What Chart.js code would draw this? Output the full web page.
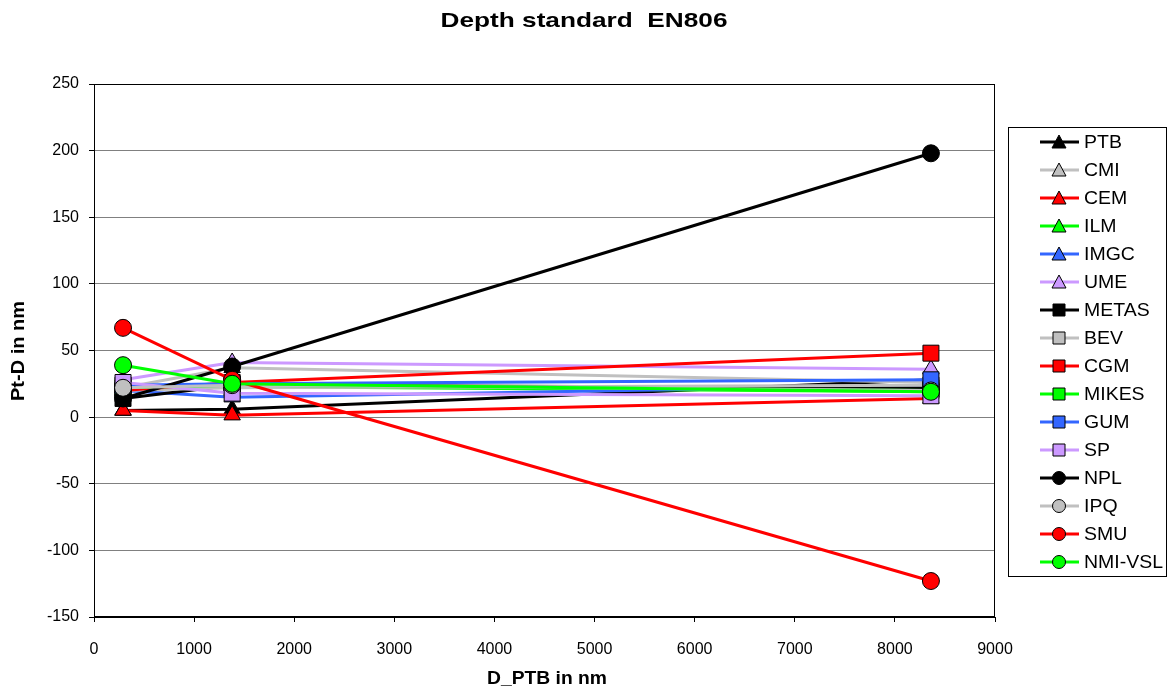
<!DOCTYPE html>
<html>
<head>
<meta charset="utf-8">
<script src="https://cdn.jsdelivr.net/npm/chart.js@4.4.1/dist/chart.umd.min.js"></script>
<style>
html,body{margin:0;padding:0;background:#fff;}
#wrap{width:1168px;height:695px;position:relative;}
</style>
</head>
<body>
<div id="wrap"><canvas id="c" width="1168" height="695"></canvas></div>
<script>
// ---- data ----
const xValues = [290, 1380, 8360];
const seriesNames = ["PTB","CMI","CEM","ILM","IMGC","UME","METAS","BEV","CGM","MIKES","GUM","SP","NPL","IPQ","SMU","NMI-VSL"];
const PTB    = [5, 6, 28];
const CMI    = [22, 37, 26];
const CEM    = [5, 1.5, 14];
const ILM    = [24, 23, 19];
const IMGC   = [20, 15, 24];
const UME    = [28, 41, 36];
const METAS  = [14, 24, 22];
const BEV    = [20, 22, 24];
const CGM    = [20, 26, 48];
const MIKES  = [22, 24, 20];
const GUM    = [24, 25, 28];
const SP     = [26, 18, 16];
const NPL    = [14, 38, 198];
const IPQ    = [22, 24, 20];
const SMU    = [67, 28, -123];
const NMIVSL = [39, 25, 19];
const xTicks = [0,1000,2000,3000,4000,5000,6000,7000,8000,9000];
const yTicks = [-150,-100,-50,0,50,100,150,200,250];

const seriesValues = [PTB,CMI,CEM,ILM,IMGC,UME,METAS,BEV,CGM,MIKES,GUM,SP,NPL,IPQ,SMU,NMIVSL];
const colors = ["#000000","#c0c0c0","#ff0000","#00ff00","#3366ff","#cc99ff"];
const lineColors = [0,1,2,3,4,5,0,1,2,3,4,5,0,1,2,3].map(i=>colors[i]);
const styles = ["triangle","triangle","triangle","triangle","triangle","triangle","rect","rect","rect","rect","rect","rect","circle","circle","circle","circle"];
const radii = {triangle:9.5, rect:11.3, circle:8.5};

const datasets = seriesNames.map((n,i)=>({
  label:n,
  data: xValues.map((x,j)=>({x:x,y:seriesValues[i][j]})),
  borderColor: lineColors[i],
  backgroundColor: lineColors[i],
  borderWidth: 3,
  pointStyle: styles[i],
  pointRadius: radii[styles[i]],
  pointHoverRadius: radii[styles[i]],
  pointBackgroundColor: lineColors[i],
  pointBorderColor: "#000",
  pointBorderWidth: 1,
  tension: 0,
  order: -i
}));

const FONT = "'Liberation Sans', Arial, sans-serif";

function fitText(ctx, text, x, y, font, targetW, align){
  ctx.save();
  ctx.font = font;
  const w = ctx.measureText(text).width;
  const s = targetW / w;
  ctx.translate(x, y);
  ctx.scale(s, 1);
  ctx.textAlign = align || "center";
  ctx.textBaseline = "middle";
  ctx.fillText(text, 0, 0);
  ctx.restore();
}

const decor = {
  id:'decor',
  beforeDatasetsDraw(chart){
    const {ctx, chartArea:a} = chart;
    ctx.save();
    ctx.strokeStyle = "#000";
    ctx.lineWidth = 1;
    ctx.strokeRect(a.left+0.5, a.top+0.5, a.right-a.left-1, a.bottom-a.top-1);
    ctx.restore();
  },
  afterDraw(chart){
    const ctx = chart.ctx;
    ctx.save();
    ctx.fillStyle = "#000";
    fitText(ctx, "Depth standard  EN806", 584, 21, "bold 21px " + FONT, 287);
    fitText(ctx, "D_PTB in nm", 547, 679, "bold 18px " + FONT, 120);
    ctx.save();
    ctx.translate(19, 351);
    ctx.rotate(-Math.PI/2);
    fitText(ctx, "Pt-D in nm", 0, 0, "bold 18px " + FONT, 100);
    ctx.restore();
    ctx.restore();

    // legend
    ctx.save();
    ctx.strokeStyle = "#000";
    ctx.lineWidth = 1;
    ctx.strokeRect(1008.5, 127.5, 158, 449);
    const step = 28;
    ctx.font = "18px " + FONT;
    const legScale = 79 / ctx.measureText("NMI-VSL").width;
    chart.data.datasets.forEach((ds,i)=>{
      const y = 142 + i*step;
      ctx.strokeStyle = ds.borderColor;
      ctx.lineWidth = 3;
      ctx.beginPath();
      ctx.moveTo(1040, y); ctx.lineTo(1079, y);
      ctx.stroke();
      ctx.fillStyle = ds.pointBackgroundColor;
      ctx.strokeStyle = "#000";
      ctx.lineWidth = 1;
      const cx = 1059;
      ctx.beginPath();
      if (ds.pointStyle === 'triangle') {
        ctx.moveTo(cx, y-7); ctx.lineTo(cx+7, y+6); ctx.lineTo(cx-7, y+6); ctx.closePath();
      } else if (ds.pointStyle === 'rect') {
        ctx.rect(cx-6, y-6, 12, 12);
      } else {
        ctx.arc(cx, y, 6.5, 0, Math.PI*2);
      }
      ctx.fill(); ctx.stroke();
      ctx.fillStyle = "#000";
      ctx.save();
      ctx.font = "18px " + FONT;
      ctx.translate(1084, y+1);
      ctx.scale(legScale, 1);
      ctx.textAlign = "left";
      ctx.textBaseline = "middle";
      ctx.fillText(ds.label, 0, 0);
      ctx.restore();
    });
    ctx.restore();
  }
};

new Chart(document.getElementById('c'), {
  type:'line',
  data:{datasets},
  options:{
    responsive:false,
    animation:false,
    events:[],
    layout:{padding:{left:0,top:84,right:173,bottom:0}},
    plugins:{legend:{display:false}, title:{display:false}, tooltip:{enabled:false}},
    scales:{
      x:{
        type:'linear', min:0, max:9000,
        afterBuildTicks(s){ s.ticks = xTicks.map(v=>({value:v})); },
        afterFit(s){ s.height = 78; },
        grid:{display:true, drawOnChartArea:false, drawTicks:true, tickLength:5, color:"#000"},
        border:{display:true, color:"#000"},
        ticks:{color:"#000", font:{family:FONT, size:16}, padding:18, maxRotation:0, autoSkip:false,
               callback:(v)=>String(v)}
      },
      y:{
        type:'linear', min:-150, max:250,
        afterBuildTicks(s){ s.ticks = yTicks.map(v=>({value:v})); },
        afterFit(s){ s.width = 94; },
        grid:{display:true, color:"#808080", lineWidth:1, drawTicks:true, tickLength:5, tickColor:"#000"},
        border:{display:true, color:"#000"},
        ticks:{color:"#000", font:{family:FONT, size:16}, padding:10, autoSkip:false,
               callback:(v)=>String(v)}
      }
    }
  },
  plugins:[decor]
});
</script>
</body>
</html>
